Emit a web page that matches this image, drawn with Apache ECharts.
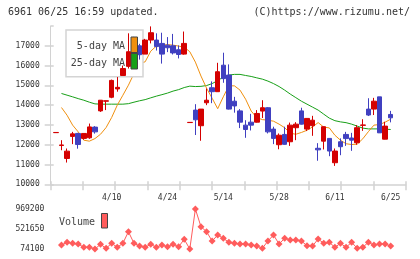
<!DOCTYPE html>
<html>
<head>
<meta charset="utf-8">
<script src="https://cdn.jsdelivr.net/npm/echarts@6/dist/echarts.min.js"></script>
<style>
  html, body { margin: 0; padding: 0; background: #fff; }
  #chart { width: 420px; height: 259px; }
</style>
</head>
<body>
<div id="chart"></div>
<script>
// trading days shown on the chart
const dates = ['3/27','3/28','3/29','4/1','4/2','4/3','4/4','4/5','4/8','4/9',
  '4/10','4/11','4/12','4/15','4/16','4/17','4/18','4/19','4/22','4/23',
  '4/24','4/25','4/26','4/30','5/1','5/2','5/7','5/8','5/9','5/13',
  '5/14','5/15','5/16','5/17','5/20','5/21','5/22','5/23','5/24','5/27',
  '5/28','5/29','5/30','5/31','6/3','6/4','6/5','6/6','6/7','6/10',
  '6/11','6/12','6/13','6/14','6/17','6/18','6/19','6/20','6/21','6/24',
  '6/25'];

const opens = [12610,11960,11305,12420,12570,12320,12350,12890,13710,14200,
  14400,14820,15500,15960,17400,17000,16580,17290,17290,17120,
  17030,17000,16800,16580,13120,13750,12960,14120,14880,14680,
  16020,15520,14200,13710,12990,13140,13140,13700,13870,12790,
  12000,12520,12150,12860,13710,12790,12960,11820,12180,12320,
  11090,12150,12520,12340,12100,12980,13800,13800,14420,12280,
  13530];
const closes = [12620,11990,11675,12550,12010,12570,12900,12650,14250,14220,
  15250,14900,15850,16700,16700,16550,17290,17660,16960,16580,
  16900,16640,16560,17120,13130,13260,13800,14250,14680,15690,
  15340,13800,13960,13140,12770,12990,13580,13870,12650,12320,
  12480,12020,12990,13040,13040,13330,13240,11740,12910,11680,
  11680,11900,12310,12230,12860,13000,13500,14200,12600,12940,
  13360];
const lows = [12610,11720,11100,12030,11800,12250,12300,12560,13660,13750,
  14350,14680,15500,15850,16600,16300,16580,17120,16760,16100,
  16680,16560,16360,16550,13120,12490,12200,14000,14100,14680,
  15130,13780,13620,12840,12350,12720,13120,13350,12570,12030,
  11770,12000,11940,12230,13020,12690,12450,11190,11760,11420,
  10930,11470,11940,11690,12000,12700,13450,13500,12600,12270,
  13130];
const highs = [12620,12230,11810,12650,12600,12580,13070,12940,14260,14230,
  15290,15420,16000,17630,17450,17100,17350,17980,17630,17660,
  17440,17600,17020,17720,13140,14050,13800,14840,15200,16140,
  16650,16060,14420,13800,13240,13560,13750,14250,13900,12910,
  12570,12910,13120,13140,13870,13340,13460,12080,12920,12330,
  11810,12320,12650,12600,12990,13290,14350,14370,14420,13160,
  13710];

const ma5 = [null,13880,13490,12990,12650,12230,12180,12310,12530,12870,
  13380,14000,14500,15010,15600,16110,16190,16730,16985,17035,
  17060,17035,16985,16930,16700,16175,15470,14860,14350,13820,
  14420,14975,14975,14760,14300,13700,13370,13270,13240,13190,
  13040,12860,12580,12530,12620,12730,12900,13120,12890,12850,
  12480,12230,12050,12010,12030,12300,12660,12990,13020,13140,
  13290];
const ma25 = [null,14590,14505,14420,14330,14250,14150,14065,14050,14050,
  14050,14050,14050,14075,14150,14220,14280,14370,14455,14530,
  14610,14710,14785,14890,14960,14940,14950,14990,15090,15240,
  15420,15520,15555,15555,15500,15450,15380,15315,15215,15090,
  14940,14760,14560,14380,14200,14050,13900,13750,13545,13345,
  13215,13155,13115,13040,12940,12840,12800,12800,12800,12785,
  12770];
const volume = [null,163600,224000,201600,186000,112000,112000,74100,179000,90000,
  201600,112000,201600,461000,201600,141000,112000,179000,112000,163600,
  126000,179000,126000,291000,74100,969200,573000,461000,253000,387000,
  313000,224000,201600,186000,186000,163600,141000,90000,253000,387000,
  186000,313000,275500,275500,253000,148000,141000,298000,201600,224000,
  112000,201600,112000,224000,90000,112000,224000,163600,186000,186000,
  141000];

const priceMin = 10000, priceMax = 18000;
const volMin = 74100, volMax = 969200;

const FONT = '"DejaVu Sans Mono", monospace';
const RED = '#d40000', BLUE = '#4040c0', ORANGE = '#f0900f', GREEN = '#18a018', VOLC = '#ff5c5c';
const AXIS = '#d2d2d2';
const plain = (v) => String(Math.round(v));

const chart = echarts.init(document.getElementById('chart'), null, { renderer: 'canvas' });

const plotTop = 26, plotH = 158.3;
const candleLeft = 53.1, slot = 5.58;

const option = {
  animation: false,
  backgroundColor: '#fff',
  title: [
    { text: '6961 06/25 16:59 updated.', left: 8, top: 7, padding: 0,
      textStyle: { fontFamily: FONT, fontSize: 10, fontWeight: 'normal', color: '#333' } },
    { text: '(C)https://www.rizumu.net/', right: 10, top: 7, padding: 0,
      textStyle: { fontFamily: FONT, fontSize: 10, fontWeight: 'normal', color: '#333' } }
  ],
  grid: [
    { left: 50.7, top: plotTop, width: 355, height: plotH },
    { left: candleLeft, top: plotTop, width: slot * dates.length, height: plotH },
    { left: candleLeft, top: 209, width: slot * dates.length, height: 40 }
  ],
  xAxis: [
    { type: 'value', gridIndex: 0, min: 0, max: 11, interval: 1, position: 'bottom',
      axisLine: { show: true, lineStyle: { color: AXIS, width: 1.5 } },
      axisTick: { show: true, length: 6, lineStyle: { color: AXIS, width: 1.5 } },
      axisLabel: { show: false }, splitLine: { show: false } },
    { type: 'value', gridIndex: 0, min: 0, max: 11, interval: 1, position: 'bottom',
      axisLine: { show: false },
      axisTick: { show: true, inside: true, length: 3, lineStyle: { color: AXIS, width: 1.5 } },
      axisLabel: { show: false }, splitLine: { show: false } },
    { type: 'category', gridIndex: 1, data: dates, boundaryGap: true, position: 'bottom',
      axisLine: { show: false }, axisTick: { show: false }, splitLine: { show: false },
      axisLabel: { interval: (i) => i > 0 && i % 10 === 0, margin: 10,
        fontFamily: FONT, fontSize: 8, color: '#333', hideOverlap: false } },
    { type: 'category', gridIndex: 2, data: dates, boundaryGap: true,
      axisLine: { show: false }, axisTick: { show: false }, axisLabel: { show: false } }
  ],
  yAxis: [
    { type: 'value', gridIndex: 0, min: priceMin, max: priceMax, interval: 1000, position: 'left',
      axisLine: { show: true, lineStyle: { color: AXIS, width: 1 } },
      axisTick: { show: true, length: 6, lineStyle: { color: AXIS, width: 1.5 } },
      axisLabel: { showMaxLabel: false, margin: 11, formatter: plain,
        fontFamily: FONT, fontSize: 8, color: '#333' },
      splitLine: { show: false } },
    { type: 'value', gridIndex: 0, min: priceMin, max: priceMax, interval: 1000, position: 'left',
      axisLine: { show: false },
      axisTick: { show: true, inside: true, length: 3, lineStyle: { color: AXIS, width: 1.5 } },
      axisLabel: { show: false }, splitLine: { show: false } },
    { type: 'value', gridIndex: 1, min: priceMin, max: priceMax, show: false },
    { type: 'value', gridIndex: 2, min: volMin, max: volMax, interval: (volMax - volMin) / 2,
      axisLine: { show: false }, axisTick: { show: false }, splitLine: { show: false },
      axisLabel: { margin: 8.8, formatter: plain, fontFamily: FONT, fontSize: 8, color: '#333' } }
  ],
  series: [
    { name: '25-day MA', type: 'line', xAxisIndex: 2, yAxisIndex: 2, data: ma25, z: 1,
      symbol: 'none', lineStyle: { color: GREEN, width: 1 } },
    { name: '5-day MA', type: 'line', xAxisIndex: 2, yAxisIndex: 2, data: ma5, z: 1,
      symbol: 'none', lineStyle: { color: ORANGE, width: 1 } },
    { type: 'candlestick', xAxisIndex: 2, yAxisIndex: 2, z: 5, barWidth: 5,
      data: dates.map((d, i) => [opens[i], closes[i], lows[i], highs[i]]),
      itemStyle: { color: RED, color0: BLUE, borderColor: RED, borderColor0: BLUE, borderWidth: 1 } },
    { name: 'Volume', type: 'line', xAxisIndex: 3, yAxisIndex: 3, data: volume,
      symbol: 'diamond', symbolSize: 7, showAllSymbol: true,
      lineStyle: { color: VOLC, width: 1 }, itemStyle: { color: VOLC } }
  ],
  graphic: [
    { type: 'rect', z: 3, shape: { x: 66, y: 30, width: 77, height: 46.7 },
      style: { fill: '#fff', stroke: '#d4d4d4', lineWidth: 1.5 } },
    { type: 'text', z: 10, style: { text: '5-day MA', x: 125, y: 46.3, align: 'right', verticalAlign: 'middle',
      font: '10px ' + FONT, fill: '#444' } },
    { type: 'text', z: 10, style: { text: '25-day MA', x: 125, y: 63, align: 'right', verticalAlign: 'middle',
      font: '10px ' + FONT, fill: '#444' } },
    { type: 'rect', z: 10, shape: { x: 131, y: 37, width: 6.5, height: 15.5 },
      style: { fill: ORANGE, stroke: '#444', lineWidth: 1 } },
    { type: 'rect', z: 10, shape: { x: 131, y: 53.5, width: 6.5, height: 15.5 },
      style: { fill: GREEN, stroke: '#444', lineWidth: 1 } },
    { type: 'text', z: 10, style: { text: 'Volume', x: 59, y: 222.3, align: 'left', verticalAlign: 'middle',
      font: '10px ' + FONT, fill: '#444' } },
    { type: 'rect', z: 10, shape: { x: 101.5, y: 213.5, width: 6, height: 14.5 },
      style: { fill: VOLC, stroke: '#444', lineWidth: 1 } }
  ]
};

chart.setOption(option);
</script>
</body>
</html>
